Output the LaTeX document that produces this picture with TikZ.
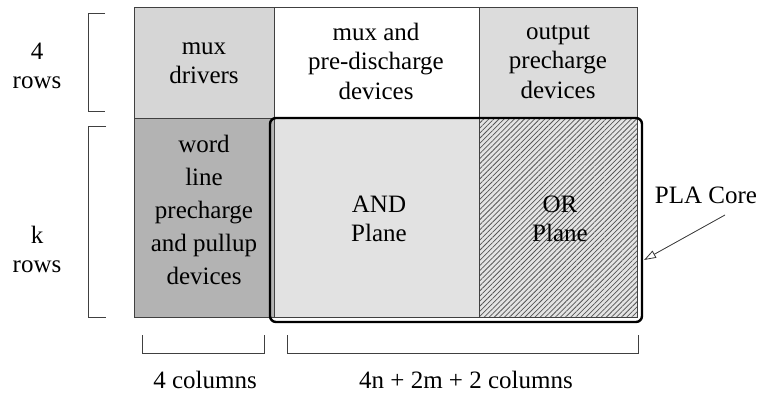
\documentclass[tikz,border=0pt]{standalone}
\usepackage{fontspec}
\setmainfont{Liberation Serif}
\usetikzlibrary{arrows.meta,patterns.meta}
\definecolor{lightcell}{HTML}{D6D6D6}
\definecolor{darkcell}{HTML}{B3B3B3}
\definecolor{outcell}{HTML}{DCDCDC}
\definecolor{andcell}{HTML}{E2E2E2}
\definecolor{orcell}{HTML}{E4E4E4}
\definecolor{hatch}{HTML}{555555}
\definecolor{edge}{HTML}{404040}
\begin{document}
\begin{tikzpicture}[x=1pt,y=-1pt,
  every node/.style={inner sep=0pt, outer sep=0pt},
  txt/.style={align=center, font=\fontsize{25}{29.5}\selectfont},
  cellbox/.style={draw=edge, line width=0.8pt, anchor=north west},
  brk/.style={draw=edge, line width=0.9pt},
  corebox/.style={draw=black, line width=2.4pt, rounded corners=6pt},
  pointer/.style={draw=black!80, line width=0.8pt, -{Triangle[open, length=12pt, width=8pt]}}]
\useasboundingbox[fill=white] (0,0) rectangle (760,394);
% cells
\node[cellbox, fill=lightcell, minimum width=140pt, minimum height=111pt] (muxdrv) at (134,7) {};
\node[cellbox, fill=white, minimum width=205pt, minimum height=111pt] (muxpre) at (274,7) {};
\node[cellbox, fill=outcell, minimum width=158pt, minimum height=111pt] (outpre) at (479,7) {};
\node[cellbox, fill=darkcell, minimum width=140pt, minimum height=199pt] (wordl) at (134,118) {};
\node[cellbox, fill=andcell, minimum width=205pt, minimum height=199pt] (andpl) at (274,118) {};
\node[cellbox, fill=orcell, minimum width=158pt, minimum height=199pt] (orpl) at (479,118) {};
\fill[pattern={Lines[angle=45, distance=3.6pt, line width=0.75pt]}, pattern color=hatch] (orpl.north west) rectangle (orpl.south east);
\draw[draw=edge, line width=0.8pt] (orpl.north west) rectangle (orpl.south east);
% PLA core outline
\node[corebox, minimum width=372pt, minimum height=204pt] (core) at (456,220) {};
% cell texts
\node[txt] (tmuxdrv) at (204,63) {mux\\drivers};
\node[txt] (tmuxpre) at (376,61) {mux and\\pre-discharge\\devices};
\node[txt] (toutpre) at (558,62) {output\\precharge\\devices};
\node[txt, font=\fontsize{25}{33}\selectfont] (twordl) at (204,210) {word\\line\\precharge\\and pullup\\devices};
\node[txt] (tand) at (379,219) {AND\\Plane};
\node[txt] (tor) at (560,219) {OR\\Plane};
% side labels
\node[txt, font=\fontsize{25}{29}\selectfont] (lfour) at (37,66) {4\\rows};
\node[txt, font=\fontsize{25}{29}\selectfont] (lk) at (37,249) {k\\rows};
\node[txt] (lcolA) at (205,380) {4 columns};
\node[txt] (lcolB) at (466,380) {4n + 2m + 2 columns};
\node[txt] (lcore) at (706,195) {PLA Core};
% brackets
\draw[brk] (105,13) -- (88,13) -- (88,111) -- (105,111);
\draw[brk] (106,126) -- (88,126) -- (88,317) -- (106,317);
\draw[brk] (142,335) -- (142,353) -- (264,353) -- (264,335);
\draw[brk] (287,335) -- (287,353) -- (638,353) -- (638,335);
% pointer
\coordinate (ptail) at (725,215);
\coordinate (ptip) at (644,260);
\draw[pointer] (ptail) -- (ptip);
\end{tikzpicture}
\end{document}
